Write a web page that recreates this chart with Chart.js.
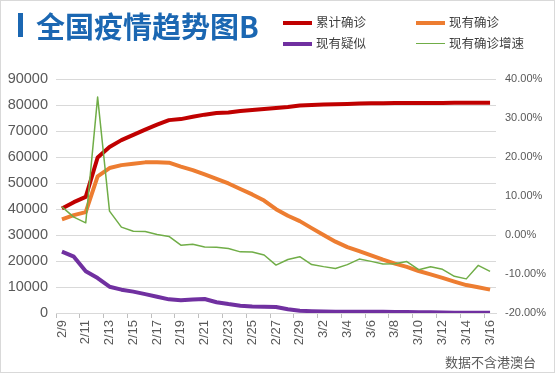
<!DOCTYPE html>
<html>
<head>
<meta charset="utf-8">
<script src="https://cdn.jsdelivr.net/npm/chart.js@4.4.1/dist/chart.umd.min.js"></script>
<style>
  body { margin: 0; background: #fff; }
  #wrap { position: relative; width: 555px; height: 373px; overflow: hidden; }
  #c { position: absolute; left: 0; top: 0; }
  #frame { position: absolute; left: 0; top: 0; width: 555px; height: 373px; box-sizing: border-box; border: 1px solid #d9d9d9; pointer-events: none; }
  #bar { position: absolute; left: 18px; top: 13px; width: 5px; height: 24px; background: #1b67b2; }
  #title { position: absolute; left: 36px; top: 9px; font: bold 29px/32px "Noto Sans CJK SC", sans-serif; color: #1b67b2; white-space: nowrap; }
  .leg { position: absolute; height: 16px; font: 12.5px/16px "Noto Sans CJK SC", sans-serif; color: #404040; white-space: nowrap; }
  .leg i { display: inline-block; width: 29px; vertical-align: middle; margin-right: 4px; margin-top: -2px; }
  #note { position: absolute; left: 445px; top: 353px; font: 13px/18px "Noto Sans CJK SC", sans-serif; color: #595959; white-space: nowrap; }
</style>
</head>
<body>
<div id="wrap">
  <canvas id="c" width="555" height="373"></canvas>
  <div id="bar"></div>
  <div id="title">全国疫情趋势图B</div>
  <div class="leg" style="left:283px;top:14px;"><i style="height:4px;background:#c00000"></i>累计确诊</div>
  <div class="leg" style="left:416px;top:14px;"><i style="height:4px;background:#ed7d31"></i>现有确诊</div>
  <div class="leg" style="left:283px;top:35px;"><i style="height:4px;background:#7030a0"></i>现有疑似</div>
  <div class="leg" style="left:416px;top:35px;"><i style="height:1.5px;background:#70ad47"></i>现有确诊增速</div>
  <div id="note">数据不含港澳台</div>
  <div id="frame"></div>
</div>
<script>
const dates = ['2/9', '2/10', '2/11', '2/12', '2/13', '2/14', '2/15', '2/16', '2/17', '2/18',
  '2/19', '2/20', '2/21', '2/22', '2/23', '2/24', '2/25', '2/26', '2/27', '2/28', '2/29',
  '3/1', '3/2', '3/3', '3/4', '3/5', '3/6', '3/7', '3/8', '3/9', '3/10',
  '3/11', '3/12', '3/13', '3/14', '3/15', '3/16'];

// 累计确诊
const cumulativeConfirmed = [40171, 42638, 44653, 59804, 63851, 66492, 68500, 70548, 72436, 74185,
  74576, 75465, 76288, 76936, 77150, 77658, 78064, 78497, 78824, 79251, 79824,
  80026, 80151, 80270, 80409, 80552, 80651, 80695, 80735, 80754, 80778,
  80793, 80813, 80824, 80844, 80860, 80881];

// 现有确诊
const currentConfirmed = [35982, 37626, 38800, 52526, 55748, 56873, 57416, 57934, 58016, 57805,
  56303, 54965, 53284, 51606, 49824, 47672, 45604, 43258, 39919, 37414, 35329,
  32652, 30004, 27433, 25352, 23784, 22177, 20533, 19016, 17721, 16145,
  14831, 13526, 12094, 10734, 9898, 8976];

// 现有疑似
const currentSuspected = [23589, 21675, 16067, 13435, 10109, 8969, 8228, 7264, 6242, 5248,
  4922, 5206, 5365, 4148, 3434, 2824, 2491, 2358, 2308, 1418, 851,
  715, 587, 520, 522, 482, 502, 458, 421, 349, 285,
  253, 147, 115, 113, 134, 128];

// 现有确诊增速 (%)
const confirmedGrowth = [7.2, 4.57, 3.12, 35.37, 6.13, 2.02, 0.95, 0.90, 0.14, -0.36,
  -2.60, -2.38, -3.06, -3.15, -3.45, -4.32, -4.34, -5.14, -7.72, -6.28, -5.57,
  -7.58, -8.11, -8.57, -7.59, -6.18, -6.76, -7.41, -7.39, -6.81, -8.89,
  -8.14, -8.80, -10.59, -11.25, -7.79, -9.32];

const tickFont = { family: 'Liberation Sans', size: 14.5 };

function line(label, data, color, width, axis, order) {
    return {
        label: label,
        data: data,
        borderColor: color,
        backgroundColor: color,
        borderWidth: width,
        pointRadius: 0,
        tension: 0,
        borderJoinStyle: 'round',
        yAxisID: axis,
        order: order
    };
}

new Chart(document.getElementById('c'), {
    type: 'line',
    data: {
        labels: dates,
        datasets: [
            line('累计确诊', cumulativeConfirmed, '#c00000', 4, 'y', 3),
            line('现有确诊', currentConfirmed, '#ed7d31', 4, 'y', 2),
            line('现有疑似', currentSuspected, '#7030a0', 4, 'y', 1),
            line('现有确诊增速', confirmedGrowth, '#70ad47', 1.5, 'y1', 0)
        ]
    },
    options: {
        responsive: false,
        animation: false,
        devicePixelRatio: 1,
        layout: { padding: { top: 79, left: 0, right: 0, bottom: 0 } },
        plugins: {
            legend: { display: false },
            tooltip: { enabled: false }
        },
        scales: {
            x: {
                type: 'category',
                offset: true,
                afterFit: function (scale) { scale.height = 60; },
                grid: {
                    offset: true,
                    drawOnChartArea: false,
                    tickLength: 5,
                    color: ctx => ctx.index % 2 === 0 ? '#bfbfbf' : 'rgba(0,0,0,0)'
                },
                border: { display: true, color: '#d9d9d9' },
                ticks: {
                    autoSkip: false,
                    maxRotation: 90,
                    minRotation: 90,
                    padding: 2,
                    color: '#595959',
                    font: { family: 'Liberation Sans', size: 13 },
                    callback: (v, i) => i % 2 === 0 ? dates[i] : ''
                }
            },
            y: {
                position: 'left',
                min: 0,
                max: 90000,
                afterFit: function (scale) { scale.width = 56; },
                grid: { color: '#d9d9d9', drawTicks: false },
                border: { display: false },
                ticks: {
                    stepSize: 10000,
                    padding: 8,
                    color: '#595959',
                    font: tickFont,
                    callback: v => String(v)
                }
            },
            y1: {
                position: 'right',
                min: -20,
                max: 40,
                afterFit: function (scale) { scale.width = 59; },
                grid: { drawOnChartArea: false, drawTicks: false },
                border: { display: false },
                ticks: {
                    stepSize: 10,
                    padding: 9,
                    color: '#595959',
                    font: { family: 'Liberation Sans', size: 11 },
                    callback: v => v.toFixed(2) + '%'
                }
            }
        }
    }
});
</script>
</body>
</html>
